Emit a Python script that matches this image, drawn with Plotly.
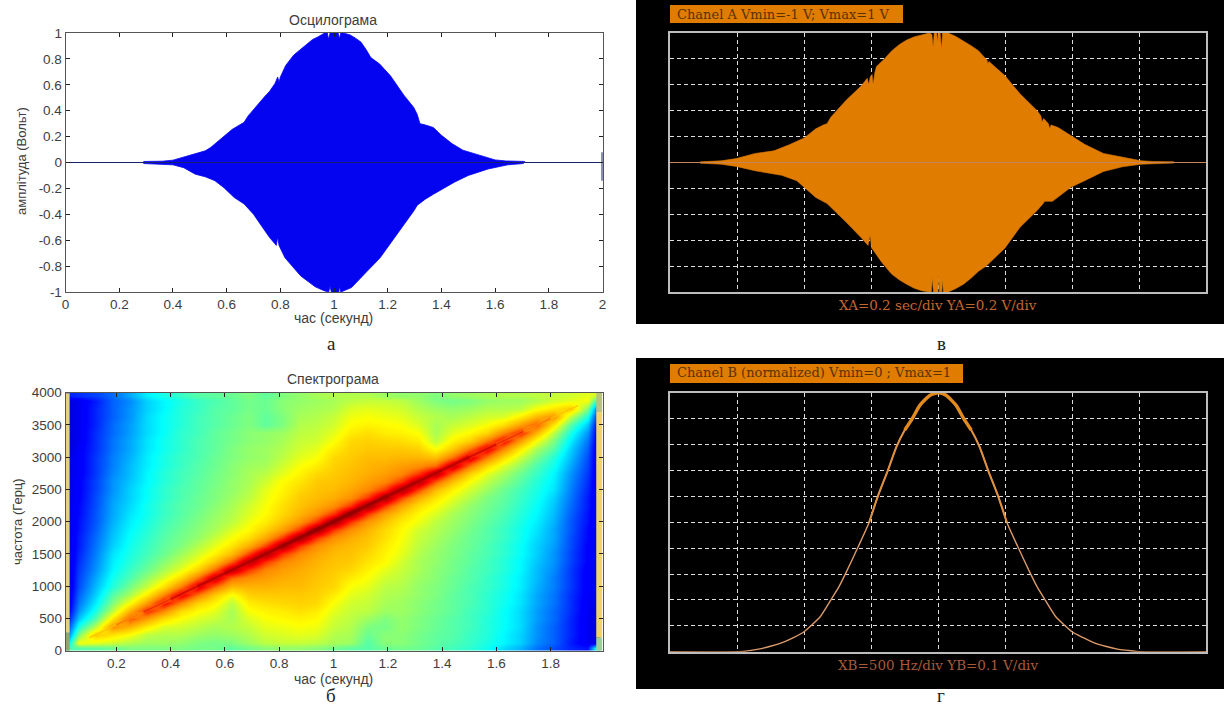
import plotly.graph_objects as go

W, H = 1224, 707
def px(x): return x / W
def py(y): return 1 - y / H

# Panel a: oscillogram envelope
a_up_t = [0.29,0.36,0.40,0.44,0.48,0.50,0.52,0.54,0.56,0.58,0.60,0.62,0.64,0.655,0.665,0.68,0.70,0.72,0.74,0.76,0.78,0.79,0.795,0.80,0.805,0.82,0.85,0.876,0.90,0.92,0.94,0.965,0.975,0.98,0.985,1.0,1.015,1.02,1.025,1.035,1.06,1.08,1.10,1.12,1.137,1.17,1.21,1.26,1.297,1.31,1.32,1.34,1.37,1.40,1.42,1.44,1.48,1.52,1.56,1.60,1.64,1.71]
a_up_v = [0.008,0.01,0.018,0.04,0.065,0.078,0.09,0.115,0.15,0.185,0.22,0.255,0.28,0.30,0.31,0.36,0.41,0.46,0.505,0.55,0.61,0.66,0.62,0.66,0.68,0.75,0.83,0.876,0.92,0.95,0.97,1.0,1.0,0.95,1.0,1.0,1.0,0.955,1.0,1.0,0.985,0.96,0.93,0.87,0.81,0.76,0.67,0.52,0.425,0.37,0.30,0.29,0.27,0.21,0.175,0.145,0.095,0.07,0.04,0.02,0.012,0.008]
a_lo_t = [0.29,0.40,0.44,0.483,0.52,0.556,0.59,0.628,0.665,0.70,0.73,0.76,0.785,0.79,0.795,0.817,0.876,0.93,0.963,0.98,0.985,0.99,1.0,1.018,1.02,1.025,1.065,1.123,1.17,1.21,1.26,1.297,1.31,1.32,1.34,1.37,1.40,1.45,1.50,1.574,1.647,1.705]
a_lo_v = [0.008,0.018,0.04,0.09,0.11,0.14,0.195,0.27,0.32,0.40,0.49,0.58,0.64,0.575,0.64,0.735,0.876,0.96,0.99,1.0,0.955,1.0,1.0,1.0,0.955,1.0,0.966,0.84,0.74,0.63,0.48,0.374,0.33,0.31,0.283,0.245,0.206,0.15,0.10,0.05,0.018,0.008]
baseline_t = [0, 2]
baseline_v = [0, 0]
spike_t = [2, 2]
spike_v = [-0.14, 0.08]

# Panel v: channel A envelope
v_up_t = [0.113,0.191,0.247,0.318,0.388,0.445,0.501,0.544,0.572,0.586,0.600,0.657,0.713,0.736,0.742,0.747,0.754,0.758,0.764,0.770,0.80,0.826,0.855,0.883,0.91,0.939,0.968,0.977,0.982,0.986,0.995,0.998,1.001,1.008,1.013,1.017,1.038,1.065,1.095,1.125,1.151,1.183,1.186,1.19,1.25,1.306,1.37,1.384,1.388,1.394,1.412,1.417,1.422,1.448,1.497,1.547,1.617,1.688,1.758,1.801,1.881]
v_up_v = [0.005,0.013,0.03,0.07,0.09,0.137,0.19,0.26,0.29,0.30,0.35,0.48,0.59,0.65,0.60,0.66,0.68,0.60,0.69,0.74,0.80,0.86,0.91,0.945,0.97,0.987,1.0,0.99,0.89,1.0,1.0,0.93,1.0,1.0,0.875,1.0,1.0,0.975,0.94,0.90,0.863,0.79,0.76,0.78,0.67,0.53,0.40,0.36,0.31,0.34,0.30,0.26,0.29,0.27,0.206,0.14,0.07,0.04,0.013,0.008,0.005]
v_lo_t = [0.113,0.191,0.247,0.318,0.417,0.473,0.544,0.572,0.586,0.657,0.713,0.739,0.747,0.752,0.756,0.79,0.826,0.855,0.883,0.91,0.939,0.968,0.975,0.979,0.983,1.0,1.003,1.006,1.014,1.017,1.02,1.038,1.065,1.095,1.125,1.151,1.18,1.25,1.306,1.37,1.391,1.398,1.427,1.497,1.547,1.617,1.688,1.758,1.881]
v_lo_v = [0.005,0.013,0.03,0.064,0.099,0.14,0.27,0.30,0.317,0.46,0.58,0.64,0.56,0.66,0.67,0.77,0.86,0.905,0.94,0.97,0.99,1.0,1.0,0.89,1.0,1.0,0.876,1.0,1.0,0.90,1.0,1.0,0.975,0.94,0.89,0.84,0.80,0.66,0.50,0.37,0.32,0.30,0.30,0.19,0.14,0.07,0.033,0.013,0.004]

# Panel g: channel B curve
g_f = [0,515,580,660,743,843,925,1000,1060,1121,1197,1260,1318,1404,1485,1551,1626,1689,1752,1808,1866,1941,2004,2060,2134,2192,2248,2311,2374,2449,2515,2596,2682,2740,2803,2879,2940,3000,3080,3157,3257,3340,3420,3500,4000]
g_v = [0,0,0.003,0.01,0.02,0.036,0.055,0.077,0.104,0.135,0.197,0.25,0.31,0.405,0.498,0.60,0.70,0.79,0.856,0.90,0.952,0.99,1.0,0.99,0.952,0.90,0.856,0.79,0.70,0.60,0.498,0.405,0.31,0.25,0.197,0.135,0.104,0.077,0.055,0.036,0.02,0.01,0.005,0,0]
g_mid_f = [1485,1551,1626,1689,1752,1808,1866,1941,2004,2060,2134,2192,2248,2311,2374,2449,2515]
g_mid_v = [0.498,0.60,0.70,0.79,0.856,0.90,0.952,0.99,1.0,0.99,0.952,0.90,0.856,0.79,0.70,0.60,0.498]
g_peak_f = [1752,1808,1866,1941,2004,2060,2134,2192,2248]
g_peak_v = [0.856,0.90,0.952,0.99,1.0,0.99,0.952,0.90,0.856]

# Panel b: spectrogram level (0-100), one list per time value, f from 125 to 3875 Hz
spec_t = [0.028,0.0625,0.125,0.1875,0.25,0.3125,0.375,0.4375,0.5,0.5625,0.625,0.6875,0.75,0.8125,0.875,0.9375,1.0,1.0625,1.125,1.1875,1.25,1.3125,1.375,1.4375,1.5,1.5625,1.625,1.6875,1.75,1.8125,1.875,1.9375,1.968]
spec_f = [0,50,125,250,375,500,625,750,875,1000,1125,1250,1375,1500,1625,1750,1875,2000,2125,2250,2375,2500,2625,2750,2875,3000,3125,3250,3375,3500,3625,3750,3875,3950,4000]
bottom_edge = [45,46,47,48,50,50,50,50,49,49,47,49,51,52,52,51,49,47,46,48,49,48,46,44,42,39,34,30,24,20,16,14,40]
top_edge = [16,17,19,23,29,36,40,43,46,47,48,50,47,50,52,54,55,55,55,53,52,52,50,52,53,54,55,55,56,57,58,60,58]
c00 = [38,28,22,17,13,11,10,9,9,9,9,9,9,9,9,9,9,9,9,9,9,9,9,9,8,8,8,8,8,8,8]
c01 = [62,50,40,32,27,24,22,20,19,18,17,16,15,15,14,14,13,13,12,12,12,11,11,11,11,10,10,10,10,10,10]
c02 = [60,70,56,46,40,36,33,31,29,27,26,25,24,23,22,21,21,20,20,19,19,18,18,18,17,17,17,16,16,16,15]
c03 = [58,66,78,66,56,50,46,41,39,37,36,35,33,32,31,30,29,29,28,27,27,26,25,25,24,24,23,23,22,22,22]
c04 = [55,62,73,84,73,62,54,49,45,43,41,40,39,38,37,36,35,34,33,33,32,31,31,30,29,29,28,28,27,27,26]
c05 = [53,56,65,76,88,76,65,57,52,48,46,44,43,42,41,40,39,39,38,38,37,37,36,36,35,35,34,34,34,33,33]
c06 = [53,55,59,67,79,91,79,67,59,54,51,48,47,46,45,44,43,43,42,42,41,41,40,40,39,39,38,38,38,37,37]
c07 = [52,55,58,62,68,80,93,80,68,60,56,53,50,49,48,47,46,46,45,45,44,44,43,43,42,42,42,41,41,41,40]
c08 = [50,53,56,59,63,69,81,94,81,69,62,58,55,52,51,50,49,48,48,47,47,46,46,45,45,45,44,44,44,43,43]
c09 = [49,52,54,57,60,64,70,82,96,82,71,64,60,57,54,53,52,51,50,50,49,49,48,48,47,47,47,46,46,46,45]
c10 = [50,53,55,54,54,56,62,72,82,97,83,72,66,62,59,56,55,54,53,52,52,51,51,50,50,49,49,48,48,47,47]
c11 = [53,55,57,59,62,65,69,73,78,86,98,85,74,67,63,61,59,58,56,55,54,54,53,52,52,51,51,50,50,49,49]
c12 = [56,58,60,62,64,67,70,73,76,79,86,99,85,75,69,65,63,62,61,60,58,56,54,53,53,52,52,47,47,48,48]
c13 = [57,59,61,63,65,68,70,72,74,76,79,86,99,86,76,71,68,67,65,64,63,60,58,56,55,54,53,50,50,51,51]
c14 = [57,60,62,64,67,69,70,72,73,74,76,79,86,100,86,77,73,71,70,68,66,64,62,60,58,57,56,55,54,53,52]
c15 = [56,59,61,63,65,68,69,70,71,72,73,75,78,86,100,86,78,74,72,71,70,68,65,62,60,58,57,56,55,54,53]
c16 = [54,55,57,58,60,62,65,68,69,70,71,72,74,78,86,100,86,78,74,72,71,70,69,68,65,62,60,58,57,55,54]
c17 = [53,54,55,56,57,58,60,62,65,68,70,71,72,74,78,86,100,86,78,75,73,72,71,70,69,68,65,63,61,59,56]
c18 = [46,48,50,53,56,57,58,60,62,64,66,68,70,71,73,77,86,100,86,79,76,74,73,72,70,69,67,64,62,60,57]
c19 = [51,51,49,50,53,54,55,56,58,60,63,64,65,67,68,71,76,86,99,86,79,76,74,72,70,68,65,63,61,59,57]
c20 = [51,51,52,52,53,53,54,55,56,57,58,60,61,62,63,65,69,75,85,99,86,79,76,73,70,67,64,62,60,58,56]
c21 = [49,49,50,50,51,51,52,52,53,54,54,55,56,57,58,61,63,67,74,85,98,86,78,73,69,65,62,59,57,55,53]
c22 = [47,47,48,48,49,49,50,50,51,51,52,52,53,54,55,56,59,62,66,72,83,97,82,72,62,56,54,54,55,53,50]
c23 = [45,46,46,46,47,47,47,48,48,49,49,50,50,51,52,53,54,57,60,64,71,82,96,82,70,64,60,57,54,52,49]
c24 = [43,43,44,44,44,45,45,45,46,46,47,47,48,48,49,50,51,52,55,58,62,69,81,94,81,69,63,59,56,53,50]
c25 = [40,41,41,41,42,42,42,43,43,44,44,45,45,46,46,47,48,49,50,53,56,60,68,80,93,80,68,62,58,55,52]
c26 = [37,37,38,38,38,39,39,40,40,41,41,42,42,43,43,44,45,46,47,48,51,54,59,67,79,91,79,67,59,55,53]
c27 = [33,33,34,34,34,35,35,36,36,37,37,38,38,39,39,40,41,42,43,44,46,48,52,57,65,76,88,76,65,56,53]
c28 = [26,27,27,28,28,29,29,30,31,31,32,33,33,34,35,36,37,38,39,40,41,43,45,49,54,62,73,84,73,62,55]
c29 = [22,22,22,23,23,24,24,25,25,26,27,27,28,29,29,30,31,32,33,35,36,37,39,41,46,50,56,66,78,66,58]
c30 = [15,16,16,16,17,17,17,18,18,18,19,19,20,20,21,21,22,23,24,25,26,27,29,31,33,36,40,46,56,70,60]
c31 = [10,10,10,10,10,10,11,11,11,11,12,12,12,13,13,14,14,15,15,16,17,18,19,20,22,24,27,32,40,50,62]
c32 = [8,8,8,8,8,9,9,9,9,9,9,9,9,9,9,9,9,9,9,9,9,9,9,9,9,10,11,13,17,24,42]
spec_cols = [c00,c01,c02,c03,c04,c05,c06,c07,c08,c09,c10,c11,c12,c13,c14,c15,c16,c17,c18,c19,c20,c21,c22,c23,c24,c25,c26,c27,c28,c29,c30,c31,c32]

# Spectrogram ridge, read per time step
ridge_t = [0.1,0.2,0.3,0.4,0.5,0.6,0.7,0.8,0.9,1.0,1.1,1.2,1.3,1.4,1.5,1.6,1.7,1.8,1.9]
ridge_f = [200,400,600,800,1000,1200,1400,1600,1800,2000,2200,2400,2600,2800,3000,3200,3400,3600,3800]
ridge_band_color = ["#FFC800","#FF9800","#FF6000","#F83000","#EC1000","#E00000","#D80000","#D00000","#C80000","#C80000","#D00000","#D80000","#E00000","#EC1000","#F83000","#FF6000","#FF9800","#FFC800"]
ridge_band_width = [1.5,3,4,4.5,5,5.5,6,6,6.5,6.5,6,6,5.5,5,4.5,4,3,1.5]
ridge_core_color = ["#FFB000","#FF6000","#E82000","#C80000","#B00000","#A00000","#980000","#8C0000","#840000","#840000","#8C0000","#980000","#A00000","#B00000","#C80000","#E82000","#FF6000","#FFB000"]
ridge_core_width = [0.5,1,1.5,2,2.5,2.5,3,3.5,4,4,3.5,3,2.5,2.5,2,1.5,1,0.5]

left_strip_t, left_strip_f = [0.0205,0.0205], [280,3990]
left_foot_t, left_foot_f = [0.0205,0.0205], [0,280]
right_strip_t, right_strip_f = [1.979,1.979], [200,3700]
right_top_t, right_top_f = [1.979,1.979], [3700,4000]
right_foot_t, right_foot_f = [1.979,1.979], [0,200]

# Tick labels
a_xticks = [0,0.2,0.4,0.6,0.8,1,1.2,1.4,1.6,1.8,2]
a_xlabels = ["0","0.2","0.4","0.6","0.8","1","1.2","1.4","1.6","1.8","2"]
a_yticks = [-1,-0.8,-0.6,-0.4,-0.2,0,0.2,0.4,0.6,0.8,1]
a_ylabels = ["-1","-0.8","-0.6","-0.4","-0.2","0","0.2","0.4","0.6","0.8","1"]
b_xticks = [0.2,0.4,0.6,0.8,1,1.2,1.4,1.6,1.8]
b_xlabels = ["0.2","0.4","0.6","0.8","1","1.2","1.4","1.6","1.8"]
b_yticks = [0,500,1000,1500,2000,2500,3000,3500,4000]
b_ylabels = ["0","500","1000","1500","2000","2500","3000","3500","4000"]

jet = [[0,"#00007F"],[0.11,"#0000FF"],[0.125,"#0000FF"],[0.375,"#00FFFF"],[0.5,"#7FFF7F"],[0.625,"#FFFF00"],[0.72,"#FFBC00"],[0.80,"#FF8000"],[0.90,"#FF0000"],[1,"#7F0000"]]
ORANGE = "#E07C00"
FG = "#3d3d3d"

rows = []
for i in range(len(spec_f)):
    if i < 2:
        rows.append(list(bottom_edge))
    elif i >= len(spec_f) - 2:
        rows.append(list(top_edge))
    else:
        rows.append([col[i - 2] for col in spec_cols])

fig = go.Figure()
def poly(tu, vu, tl, vl):
    return tu + tl[::-1], vu + [-v for v in vl[::-1]]

# a
xa, ya = poly(a_up_t, a_up_v, a_lo_t, a_lo_v)
fig.add_trace(go.Scatter(x=xa, y=ya, mode="lines", fill="toself", fillcolor="#0404F0", line=dict(color="#0404F0", width=0.8), xaxis="x", yaxis="y"))
fig.add_trace(go.Scatter(x=baseline_t, y=baseline_v, mode="lines", line=dict(color="#16206E", width=1.2), xaxis="x", yaxis="y"))
fig.add_trace(go.Scatter(x=spike_t, y=spike_v, mode="lines", line=dict(color="#16206E", width=2), xaxis="x", yaxis="y"))
# v
xv, yv = poly(v_up_t, v_up_v, v_lo_t, v_lo_v)
fig.add_trace(go.Scatter(x=xv, y=yv, mode="lines", fill="toself", fillcolor=ORANGE, line=dict(color=ORANGE, width=0.6), xaxis="x2", yaxis="y2"))
fig.add_trace(go.Scatter(x=baseline_t, y=baseline_v, mode="lines", line=dict(color="#C8855A", width=1.2), xaxis="x2", yaxis="y2"))
# b
fig.add_trace(go.Heatmap(x=spec_t, y=spec_f, z=rows, zmin=0, zmax=100, colorscale=jet, zsmooth="best", showscale=False, xaxis="x3", yaxis="y3"))
for k in range(len(ridge_band_color)):
    fig.add_trace(go.Scatter(x=ridge_t[k:k+2], y=ridge_f[k:k+2], mode="lines", opacity=0.7, line=dict(color=ridge_band_color[k], width=ridge_band_width[k]), xaxis="x3", yaxis="y3"))
for k in range(len(ridge_core_color)):
    fig.add_trace(go.Scatter(x=ridge_t[k:k+2], y=ridge_f[k:k+2], mode="lines", opacity=0.7, line=dict(color=ridge_core_color[k], width=ridge_core_width[k]), xaxis="x3", yaxis="y3"))
for tt, ff, cc in [(left_strip_t,left_strip_f,"#E3D27E"),(left_foot_t,left_foot_f,"#8FA86A"),(right_strip_t,right_strip_f,"#EFD468"),(right_top_t,right_top_f,"#B9C47E"),(right_foot_t,right_foot_f,"#9CCF9A")]:
    wd = 4 if tt[0] < 1 else 6
    fig.add_trace(go.Scatter(x=tt, y=ff, mode="lines", line=dict(color=cc, width=wd), xaxis="x3", yaxis="y3"))
# g
fig.add_trace(go.Scatter(x=g_f, y=g_v, mode="lines", line=dict(color="#DC9A68", width=1.4, shape="spline", smoothing=0.6), xaxis="x4", yaxis="y4"))
fig.add_trace(go.Scatter(x=g_mid_f, y=g_mid_v, mode="lines", line=dict(color="#DE9040", width=2, shape="spline", smoothing=0.6), xaxis="x4", yaxis="y4"))
fig.add_trace(go.Scatter(x=g_peak_f, y=g_peak_v, mode="lines", line=dict(color="#E08A20", width=3.4, shape="spline", smoothing=0.6), xaxis="x4", yaxis="y4"))

def white_axes(xd, yd, xr, yr, xt, xl, yt, yl, ax, ay):
    common = dict(ticks="inside", ticklen=4, tickcolor="#222", showline=True, linecolor="#555", linewidth=1, mirror="ticks",
                  showgrid=False, zeroline=False, tickfont=dict(family="Liberation Sans", size=13.5, color=FG), tickmode="array")
    xa_ = dict(domain=xd, range=xr, tickvals=xt, ticktext=xl, anchor=ay, **common)
    ya_ = dict(domain=yd, range=yr, tickvals=yt, ticktext=yl, anchor=ax, **common)
    return xa_, ya_

def scope_axes(xd, yd, xr, yr, dx, dy, ax, ay):
    common = dict(showline=True, linecolor="#BDBDBD", linewidth=2, mirror=True, showgrid=True, gridcolor="#DDDDDD", griddash="4px,3px",
                  gridwidth=1, zeroline=False, showticklabels=False, ticks="", tickmode="linear")
    xa_ = dict(domain=xd, range=xr, tick0=xr[0], dtick=dx, anchor=ay, **common)
    ya_ = dict(domain=yd, range=yr, tick0=yr[0], dtick=dy, anchor=ax, **common)
    return xa_, ya_

xa1, ya1 = white_axes([px(65.6),px(602.5)], [py(292),py(33)], [0,2], [-1,1], a_xticks, a_xlabels, a_yticks, a_ylabels, "x", "y")
xa3, ya3 = white_axes([px(65.6),px(602.5)], [py(650.7),py(392.7)], [0.013,1.991], [0,4000], b_xticks, b_xlabels, b_yticks, b_ylabels, "x3", "y3")
xa2, ya2 = scope_axes([px(670),px(1206)], [py(292),py(33)], [0,2], [-1,1], 0.25, 0.2, "x2", "y2")
xa4, ya4 = scope_axes([px(670),px(1206)], [py(651.7),py(392.7)], [0,4000], [0,1], 500, 0.1, "x4", "y4")

def rect(x0, y0, x1, y1, fill, line=None):
    return dict(type="rect", xref="paper", yref="paper", x0=px(x0), x1=px(x1), y0=py(y0), y1=py(y1), fillcolor=fill, line=dict(width=0 if line is None else 1, color=line or fill), layer="below")

def txt(x, y, s, size, color, family="Liberation Sans", anchor="center", angle=0):
    return dict(x=px(x), y=py(y), xref="paper", yref="paper", text=s, showarrow=False, xanchor=anchor, yanchor="middle",
                textangle=angle, font=dict(family=family, size=size, color=color))

SCOPE = "DejaVu Serif"
annots = [
    txt(333, 19.5, "Осцилограма", 14, FG),
    txt(333, 318.5, "час (секунд)", 14, FG),
    txt(21, 161, "амплітуда (Вольт)", 13, FG, angle=-90),
    txt(333, 379, "Спектрограма", 14, FG),
    txt(333, 678.5, "час (секунд)", 14, FG),
    txt(17, 522, "частота (Герц)", 13, FG, angle=-90),
    txt(331, 343, "а", 19, "#222", "Liberation Serif"),
    txt(331, 695, "б", 19, "#222", "Liberation Serif"),
    txt(941, 343, "в", 19, "#222", "Liberation Serif"),
    txt(941, 695, "г", 19, "#222", "Liberation Serif"),
    txt(675, 14, "Chanel A Vmin=-1 V; Vmax=1 V", 13, "#5A3200", SCOPE, "left"),
    txt(675, 372, "Chanel B (normalized) Vmin=0 ; Vmax=1", 13, "#5A3200", SCOPE, "left"),
    txt(937.5, 305, "XA=0.2 sec/div YA=0.2 V/div", 13.5, "#C4672F", SCOPE),
    txt(937.5, 665, "XB=500 Hz/div YB=0.1 V/div", 13.5, "#A8593A", SCOPE),
]
shapes = [
    rect(636, 0, 1224, 324, "#000000"),
    rect(636, 358, 1224, 689, "#000000"),
    rect(670, 5, 903, 23, ORANGE),
    rect(670, 364, 963, 383, ORANGE),
]

fig.update_layout(
    width=W, height=H, margin=dict(l=0, r=0, t=0, b=0, autoexpand=False), showlegend=False,
    paper_bgcolor="white", plot_bgcolor="rgba(0,0,0,0)",
    xaxis=xa1, yaxis=ya1, xaxis2=xa2, yaxis2=ya2, xaxis3=xa3, yaxis3=ya3, xaxis4=xa4, yaxis4=ya4,
    annotations=annots, shapes=shapes,
)
fig.write_html("out.html", config={"displayModeBar": False}, post_script="document.body.style.margin='0';")
